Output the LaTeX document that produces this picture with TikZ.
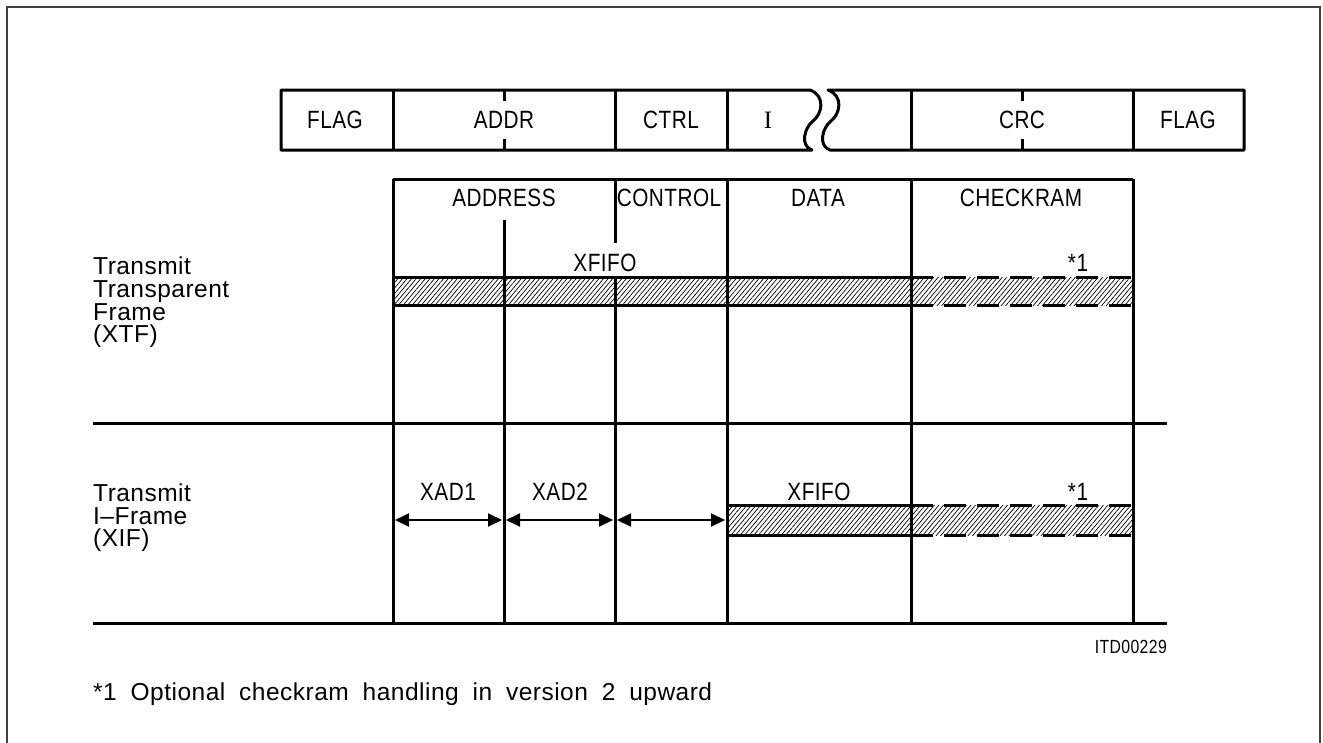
\documentclass[tikz,border=0pt]{standalone}
\usepackage{fontspec}
\setmainfont{Liberation Sans}[LetterSpace=2,WordSpace=1.9]
\newfontfamily\capsf{Liberation Sans}[FakeStretch=0.83,LetterSpace=2]
\newfontfamily\serf{Liberation Serif}
\usetikzlibrary{patterns.meta,arrows.meta}
\begin{document}
\begin{tikzpicture}[x=1pt,y=-1pt,
  heavy/.style={line width=3pt},
  capsl/.style={inner sep=0pt,font=\capsf\fontsize{25}{25}\selectfont},
  mixl/.style={inner sep=0pt,anchor=base west,font=\fontsize{24.5}{24.5}\selectfont},
  hatch/.style={pattern={Lines[angle=50,distance=3.5pt,line width=0.7pt]}},
  dashedge/.style={line width=3pt,dash pattern=on 22pt off 11pt},
  dimarrow/.style={line width=2pt,{Triangle[length=14pt,width=13pt]}-{Triangle[length=14pt,width=13pt]}}
]
\clip (0,0) rectangle (1323,742);
\fill[white] (0,0) rectangle (1323,742);
\draw[line width=1.3pt,black!75] (7,7) rectangle (1320,770);

% ---------- top frame format ----------
\draw[heavy,line join=round]
  (810,90) .. controls (826,96) and (822,114) .. (813,121)
           .. controls (804,128) and (800,146) .. (812,150)
  -- (281,150) -- (281,90) -- cycle;
\draw[heavy,line join=round]
  (828,90) .. controls (844,96) and (840,114) .. (831,121)
           .. controls (822,128) and (818,146) .. (830,150)
  -- (1244,150) -- (1244,90) -- cycle;
\foreach \x in {393,615,727,911,1133} \draw[heavy] (\x,90) -- (\x,150);
\foreach \x in {504,1022} {\draw[heavy] (\x,90) -- (\x,101); \draw[heavy] (\x,139) -- (\x,150);}
\node[capsl] (tflag1) at (335,120) {FLAG};
\node[capsl] (taddr) at (504,120) {ADDR};
\node[capsl] (tctrl) at (671,120) {CTRL};
\node[inner sep=0pt,font=\serf\fontsize{25}{25}\selectfont] (ti) at (768,120) {I};
\node[capsl] (tcrc) at (1022,120) {CRC};
\node[capsl] (tflag2) at (1188,120) {FLAG};

% ---------- hatched bands ----------
\fill[hatch] (393,277) rectangle (1133,305);
\draw[heavy] (393,277) -- (911,277);
\draw[heavy] (393,305) -- (911,305);
\draw[dashedge] (911,277) -- (1133,277);
\draw[dashedge] (911,305) -- (1133,305);

\fill[hatch] (727,505) rectangle (1133,535);
\draw[heavy] (727,505) -- (911,505);
\draw[heavy] (727,535) -- (911,535);
\draw[dashedge] (911,505) -- (1133,505);
\draw[dashedge] (911,535) -- (1133,535);

% ---------- table ----------
\draw[heavy] (393,179) -- (1133,179);
\draw[heavy] (393,179) -- (393,623);
\draw[heavy] (504,220) -- (504,623);
\draw[heavy] (615,179) -- (615,243);
\draw[heavy] (615,277) -- (615,623);
\foreach \x in {727,911,1133} \draw[heavy] (\x,179) -- (\x,623);
\draw[heavy] (93,423) -- (1167,423);
\draw[heavy] (93,623) -- (1167,623);

\node[capsl] (haddr) at (504,198) {ADDRESS};
\node[capsl] (hctrl) at (669,198) {CONTROL};
\node[capsl] (hdata) at (818,198) {DATA};
\node[capsl] (hchk) at (1021,198) {CHECKRAM};
\node[capsl] (xf1) at (605,263) {XFIFO};
\node[capsl] (n1a) at (1078,263) {*1};

\node[mixl] (l1) at (93,274) {Transmit};
\node[mixl] (l2) at (93,297) {Transparent};
\node[mixl] (l3) at (93,320) {Frame};
\node[mixl] (l4) at (93,342) {(XTF)};

\node[mixl] (m1) at (93,501) {Transmit};
\node[mixl] (m2) at (93,524) {I--Frame};
\node[mixl] (m3) at (93,546) {(XIF)};

\coordinate (c1) at (393,520);
\coordinate (c2) at (504,520);
\coordinate (c3) at (615,520);
\coordinate (c4) at (727,520);
\draw[dimarrow,shorten <=2pt,shorten >=2pt] (c1) -- (c2);
\draw[dimarrow,shorten <=2pt,shorten >=2pt] (c2) -- (c3);
\draw[dimarrow,shorten <=2pt,shorten >=2pt] (c3) -- (c4);
\node[capsl] (xad1) at (448,492) {XAD1};
\node[capsl] (xad2) at (560,492) {XAD2};
\node[capsl] (xf2) at (819,492) {XFIFO};
\node[capsl] (n1b) at (1078,492) {*1};

\node[inner sep=0pt,anchor=east,font=\capsf\fontsize{19}{19}\selectfont] (itd) at (1167,647) {ITD00229};
\node[mixl] (foot) at (93,700) {*1 Optional checkram handling in version 2 upward};
\end{tikzpicture}
\end{document}
